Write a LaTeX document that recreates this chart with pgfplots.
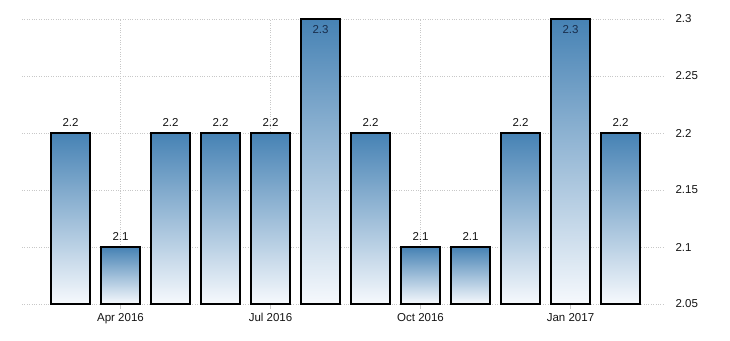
\documentclass[border=0pt]{standalone}
\usepackage{pgfplots}
\pgfplotsset{compat=1.18}
\usepackage{fontspec}
\setmainfont{Liberation Sans}
\definecolor{bartop}{RGB}{70,130,180}
\definecolor{barbot}{RGB}{246,249,253}
\definecolor{gridc}{RGB}{200,200,200}
\definecolor{txt}{RGB}{20,20,20}
\pgfplotsset{onebar/.style={ybar, bar width=39pt, bar shift=0pt, draw=black, line width=1.1pt,
  top color=bartop, bottom color=barbot}}
\begin{document}
\begin{tikzpicture}
\begin{axis}[
  name=ax,
  scale only axis,
  width=641pt, height=285pt,
  xmin=-0.97, xmax=11.85,
  ymin=2.05, ymax=2.3,
  y coord trafo/.code={\pgfmathparse{#1-2.05}},
  y coord inv trafo/.code={\pgfmathparse{#1+2.05}},
  ytick={2.05,2.1,2.15,2.2,2.25,2.3},
  yticklabels={2.05,2.1,2.15,2.2,2.25,2.3},
  xtick={1,4,7,10},
  xticklabels={Apr 2016,Jul 2016,Oct 2016,Jan 2017},
  xtick pos=bottom, ytick pos=right,
  axis line style={draw=none},
  ytick style={draw=none},
  xtick style={draw=gridc, thick},
  major tick length=5pt,
  tick align=outside,
  grid=major,
  major grid style={gridc, dotted, line width=0.6pt},
  tick label style={font=\fontsize{11.5}{13}\selectfont, text=txt},
  yticklabel style={anchor=west, xshift=4pt},
  xticklabel style={yshift=-1pt},
  /pgf/number format/assume math mode=true,
  clip=false,
]
\addplot[onebar] coordinates {(0,2.2)};
\addplot[onebar] coordinates {(1,2.1)};
\addplot[onebar] coordinates {(2,2.2)};
\addplot[onebar] coordinates {(3,2.2)};
\addplot[onebar] coordinates {(4,2.2)};
\addplot[onebar] coordinates {(5,2.3)};
\addplot[onebar] coordinates {(6,2.2)};
\addplot[onebar] coordinates {(7,2.1)};
\addplot[onebar] coordinates {(8,2.1)};
\addplot[onebar] coordinates {(9,2.2)};
\addplot[onebar] coordinates {(10,2.3)};
\addplot[onebar] coordinates {(11,2.2)};
\addplot[draw=none, mark=none, point meta=rawy, nodes near coords,
  nodes near coords style={anchor=south, inner sep=0pt, yshift=6pt, text=txt, font=\fontsize{11.5}{13}\selectfont}]
  coordinates {
  (0,2.2) (1,2.1) (2,2.2) (3,2.2) (4,2.2) (6,2.2) (7,2.1) (8,2.1) (9,2.2) (11,2.2)
};
\addplot[draw=none, mark=none, point meta=rawy, nodes near coords,
  nodes near coords style={anchor=north, inner sep=0pt, yshift=-6pt, text={rgb,255:red,25;green,45;blue,75}, font=\fontsize{11.5}{13}\selectfont}]
  coordinates {
  (5,2.3) (10,2.3)
};
\end{axis}
\pgfresetboundingbox
\path ([shift={(-22pt,-36pt)}]ax.south west) rectangle ([shift={(67pt,19pt)}]ax.north east);
\end{tikzpicture}
\end{document}
